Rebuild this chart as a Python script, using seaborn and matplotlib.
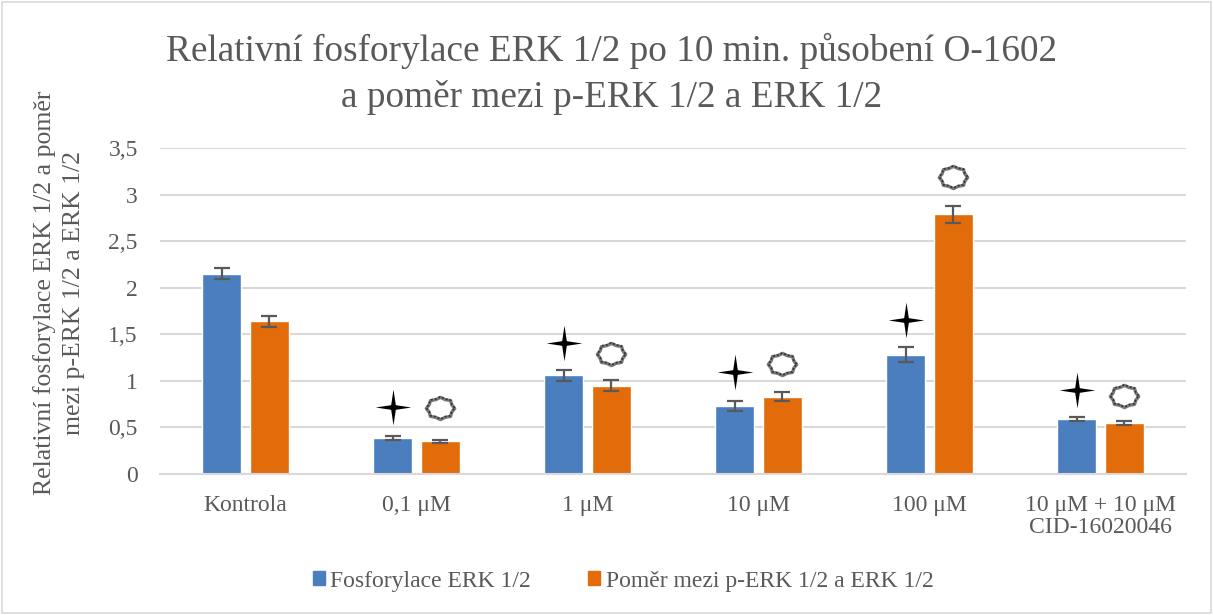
import numpy as np
import pandas as pd
import matplotlib
matplotlib.use("Agg")
import matplotlib.pyplot as plt
import seaborn as sns
from matplotlib.path import Path
from matplotlib.patches import Rectangle
from matplotlib.container import BarContainer

categories = ["Kontrola", "0,1 μM", "1 μM", "10 μM", "100 μM", "10 μM + 10 μM\nCID-16020046"]
series_names = ["Fosforylace ERK 1/2", "Poměr mezi p-ERK 1/2 a ERK 1/2"]
fosforylace = [2.15, 0.39, 1.06, 0.73, 1.28, 0.59]
pomer = [1.64, 0.35, 0.95, 0.83, 2.79, 0.55]
fosforylace_err = [0.06, 0.02, 0.06, 0.05, 0.08, 0.02]
pomer_err = [0.06, 0.02, 0.06, 0.05, 0.09, 0.02]
# significance markers (None = no marker)
star_y = [None, 0.72, 1.41, 1.10, 1.65, 0.90]
cloud_y = [None, 0.71, 1.29, 1.18, 3.19, 0.84]
yticks = [0, 0.5, 1, 1.5, 2, 2.5, 3, 3.5]
ytick_labels = ["0", "0,5", "1", "1,5", "2", "2,5", "3", "3,5"]
title = "Relativní fosforylace ERK 1/2 po 10 min. působení O-1602\na poměr mezi p-ERK 1/2 a ERK 1/2"
ylabel = "Relativní fosforylace ERK 1/2 a poměr\nmezi p-ERK 1/2 a ERK 1/2"

blue = "#4A7EBF"
orange = "#E36C0A"
text_col = "#595959"
grid_col = "#D9D9D9"

sns.set_theme(style="white")
plt.rcParams["font.family"] = ["Liberation Serif", "DejaVu Serif"]

df = pd.DataFrame({
    "cat": categories * 2,
    "series": [series_names[0]] * 6 + [series_names[1]] * 6,
    "value": fosforylace + pomer,
})

fig = plt.figure(figsize=(12.13, 6.15), dpi=100)
W, H = 1213, 615
ax = fig.add_axes([160 / W, 1 - 474 / H, (1186 - 160) / W, (474 - 148) / H])

sns.barplot(data=df, x="cat", y="value", hue="series", order=categories,
            hue_order=series_names, palette=[blue, orange], width=0.56, gap=0.19,
            errorbar=None, ax=ax, saturation=1, legend=True)

# error bars
errs = [fosforylace_err, pomer_err]
vals = [fosforylace, pomer]
bar_conts = [c for c in ax.containers if isinstance(c, BarContainer)]
xs_by_series = []
for cont in bar_conts:
    xs_by_series.append([b.get_x() + b.get_width() / 2 for b in cont.patches])
for si in range(2):
    ax.errorbar(xs_by_series[si], vals[si], yerr=errs[si], fmt="none", ecolor="#595959",
                elinewidth=1.6, capsize=6, capthick=1.6, zorder=5)

# markers
star = Path([(0, 1), (0.13, 0.13), (1, 0), (0.13, -0.13), (0, -1), (-0.13, -0.13), (-1, 0), (-0.13, 0.13), (0, 1)],
            [Path.MOVETO] + [Path.LINETO] * 7 + [Path.CLOSEPOLY])
ang = np.linspace(0, 2 * np.pi, 17)[:-1]
rad = np.where(np.arange(16) % 2 == 0, 1.0, 0.86)
cv = [(1.15 * r * np.cos(a), 0.9 * r * np.sin(a)) for r, a in zip(rad, ang)]
cv.append(cv[0])
cloud = Path(cv, [Path.MOVETO] + [Path.LINETO] * 15 + [Path.CLOSEPOLY])
sx = [x for x, y in zip(xs_by_series[0], star_y) if y is not None]
sy = [y for y in star_y if y is not None]
cx = [x for x, y in zip(xs_by_series[1], cloud_y) if y is not None]
cy = [y for y in cloud_y if y is not None]
ax.scatter(sx, sy, marker=star, s=660, color="black", zorder=6, linewidths=0)
ax.scatter(cx, cy, marker=cloud, s=420, facecolor="white", edgecolor="#7a7a7a",
           linewidths=2.4, zorder=6)
ax.scatter(cx, cy, marker=cloud, s=420, facecolor="none", edgecolor="#333333",
           linewidths=1.2, linestyle=(0, (1.2, 1.2)), zorder=7)

ax.set_xlim(-0.5, 5.5)
ax.set_ylim(0, 3.5)
ax.set_yticks(yticks)
ax.set_yticklabels(ytick_labels)
ax.yaxis.grid(True, color=grid_col, linewidth=1.5)
ax.set_axisbelow(True)
for s in ["top", "right", "left"]:
    ax.spines[s].set_visible(False)
ax.spines["bottom"].set_color(grid_col)
ax.spines["bottom"].set_linewidth(1.5)
ax.tick_params(axis="both", length=0, labelsize=17, colors=text_col)
ax.tick_params(axis="y", pad=16)
ax.tick_params(axis="x", pad=15)
for lab in ax.get_xticklabels():
    lab.set_linespacing(1.05)
ax.set_xlabel("")
ax.set_ylabel("")

fig.text(59 / W, 1 - 293 / H, ylabel, rotation=90, ha="center", va="center",
         multialignment="center", fontsize=18.5, color=text_col, linespacing=1.42)
fig.text(612 / W, 1 - 74 / H, title, ha="center", va="center", fontsize=26.8,
         color=text_col, linespacing=1.38)

if ax.legend_ is not None:
    ax.legend_.remove()
handles = [Rectangle((0, 0), 1, 1, color=blue), Rectangle((0, 0), 1, 1, color=orange)]
fig.legend(handles, series_names, loc="center", bbox_to_anchor=(623 / W, 1 - 581 / H),
           ncol=2, frameon=False, fontsize=17, labelcolor=text_col,
           handlelength=0.5, handleheight=0.5, handletextpad=0.25, columnspacing=2.4)

fig.patches.append(Rectangle((2 / W, 2 / H), 1 - 4 / W, 1 - 4 / H, transform=fig.transFigure,
                             fill=False, edgecolor=grid_col, linewidth=1.2))

fig.savefig("out.png", dpi=100)
